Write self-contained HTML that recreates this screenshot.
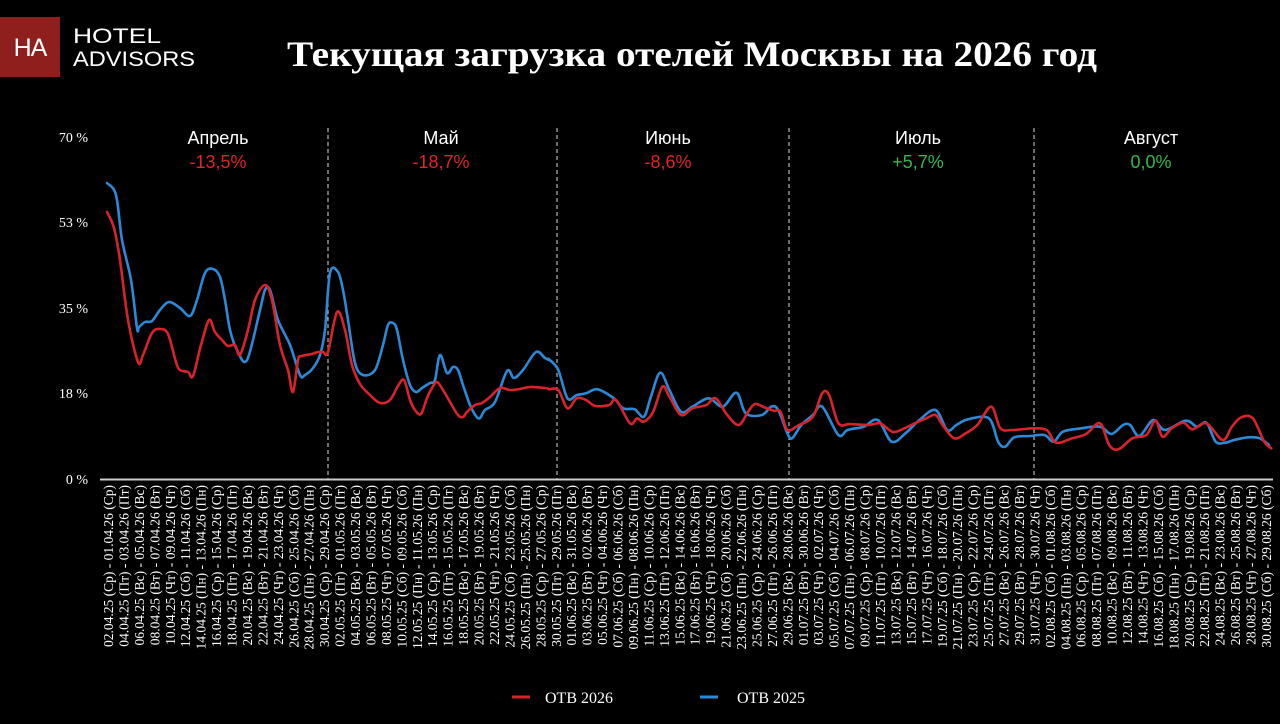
<!DOCTYPE html>
<html><head><meta charset="utf-8"><style>
html,body{margin:0;padding:0;background:#000;}
svg{display:block}
</style></head><body>
<svg id="s" width="1280" height="724" viewBox="0 0 1280 724" xmlns="http://www.w3.org/2000/svg">
<rect width="1280" height="724" fill="#000"/>
<rect x="0" y="17" width="60" height="60" fill="#8e1f1d"/>
<text x="30" y="56" fill="#fff" font-family="Liberation Sans, sans-serif" font-size="25" text-anchor="middle" letter-spacing="-1">HA</text>
<text x="73" y="43" fill="#fff" font-family="Liberation Sans, sans-serif" font-size="21" textLength="88" lengthAdjust="spacingAndGlyphs">HOTEL</text>
<text x="73" y="66" fill="#fff" font-family="Liberation Sans, sans-serif" font-size="21" textLength="122" lengthAdjust="spacingAndGlyphs">ADVISORS</text>
<text x="287" y="66" fill="#fff" font-family="Liberation Serif, serif" font-size="36" font-weight="bold" textLength="810" lengthAdjust="spacingAndGlyphs">Текущая загрузка отелей Москвы на 2026 год</text>
<g font-family="Liberation Serif, serif" font-size="14" fill="#fff" text-anchor="end">
<text x="88" y="142">70 %</text><text x="88" y="227">53 %</text><text x="88" y="313">35 %</text><text x="88" y="398">18 %</text><text x="88" y="484">0 %</text>
</g>
<g stroke="#ddd" stroke-width="1" stroke-dasharray="4,3">
<line x1="328" y1="128" x2="328" y2="479"/><line x1="557" y1="128" x2="557" y2="479"/><line x1="789" y1="128" x2="789" y2="479"/><line x1="1034" y1="128" x2="1034" y2="479"/>
</g>
<g font-family="Liberation Sans, sans-serif" font-size="18" text-anchor="middle">
<text x="218" y="144" fill="#fff">Апрель</text><text x="218" y="168" fill="#e3222b">-13,5%</text>
<text x="441" y="144" fill="#fff">Май</text><text x="441" y="168" fill="#e3222b">-18,7%</text>
<text x="668" y="144" fill="#fff">Июнь</text><text x="668" y="168" fill="#e3222b">-8,6%</text>
<text x="918" y="144" fill="#fff">Июль</text><text x="918" y="168" fill="#2fb84e">+5,7%</text>
<text x="1151" y="144" fill="#fff">Август</text><text x="1151" y="168" fill="#2fb84e">0,0%</text>
</g>
<line x1="100" y1="479.5" x2="1273" y2="479.5" stroke="#ccc" stroke-width="2"/>
<g id="lines" fill="none" stroke-width="2.6" stroke-linejoin="round" stroke-linecap="round"></g>
<g id="xl" font-family="Liberation Serif, serif" font-size="13.5" fill="#fff" text-anchor="end"></g>
<line x1="512" y1="697" x2="530" y2="697" stroke="#d9232b" stroke-width="3"/>
<text x="545" y="703" fill="#fff" font-family="Liberation Serif, serif" font-size="16">ОТВ 2026</text>
<line x1="700" y1="697" x2="718" y2="697" stroke="#2a8ad8" stroke-width="3"/>
<text x="737" y="703" fill="#fff" font-family="Liberation Serif, serif" font-size="16">ОТВ 2025</text>
</svg>
<script>
var NS="http://www.w3.org/2000/svg";
var blueA=[[107,183],[116,195],[122,240],[131,280],[137,328],[139,327],[145,322],[152,321],[160,310],[169,302],[180,308],[190,316],[197,300],[205,273],[213,269],[220,277],[225,300],[230,330],[237,350],[247,360],[260,310],[265,290],[270,290],[278,320],[290,345],[300,375],[305,375],[313,368],[320,355],[325,330],[330,273],[338,272],[343,290],[348,320],[355,363],[363,375],[375,370],[383,345],[388,325],[393,323],[397,330],[403,360],[410,385],[416,392],[422,388],[430,383],[435,380],[440,355],[447,373],[453,367],[458,370],[463,385],[470,405],[476,416],[480,418],[485,410],[495,402],[507,371],[514,378],[523,370],[536,352],[545,358],[549,360]];
var redA=[[107,212],[114,228],[120,260],[128,320],[138,362],[143,355],[152,333],[160,329],[168,334],[176,362],[180,370],[188,372],[193,376],[201,345],[209,320],[215,332],[222,340],[228,346],[235,345],[240,355],[248,330],[255,300],[265,285],[272,300],[280,345],[288,370],[293,392],[298,360],[302,356],[312,354],[318,352],[323,352],[328,352],[337,312],[345,330],[352,365],[360,384],[370,395],[380,403],[390,400],[398,386],[404,380],[410,400],[415,410],[421,414],[427,398],[432,388],[437,382],[443,390],[450,402],[458,415],[463,417],[467,412],[475,405],[482,403],[490,397],[500,388],[510,390],[520,389],[530,387],[545,388],[549,389]];
var blueB=[[0,88],[20,120],[40,205],[60,195],[80,190],[105,178],[140,205],[160,235],[185,238],[205,260],[220,200],[240,128],[260,180],[285,245],[310,230],[345,205],[375,230],[405,188],[425,250],[460,255],[480,230],[495,240],[515,310],[525,325],[545,285],[570,255],[590,230],[625,315],[645,300],[680,290],[710,270],[740,335],[770,310],[800,270],[835,240],[860,300],[880,285],[905,268],[950,265],[970,335],[985,350],[1005,322],[1040,318],[1070,315],[1090,335],[1110,305],[1150,295],[1190,290],[1215,312],[1240,285],[1255,285],[1275,318],[1305,270],[1330,300],[1375,272],[1400,290],[1420,278],[1440,335],[1460,338],[1480,330],[1510,322],[1535,325],[1555,345]];
var redB=[[0,178],[20,180],[40,235],[60,205],[80,210],[100,228],[130,225],[145,210],[175,280],[190,265],[205,275],[225,245],[245,170],[260,200],[285,255],[310,235],[340,225],[360,205],[385,255],[410,285],[430,245],[445,222],[465,232],[485,242],[500,245],[515,300],[540,285],[570,260],[590,190],[605,195],[625,280],[650,282],[690,285],[715,280],[735,300],[750,305],[790,280],[815,265],[835,255],[850,285],[875,325],[900,310],[925,285],[955,230],[975,295],[1000,300],[1020,298],[1045,295],[1075,300],[1095,338],[1130,325],[1160,312],[1190,280],[1210,345],[1230,358],[1260,325],[1290,315],[1310,272],[1325,320],[1345,295],[1370,278],[1390,298],[1420,280],[1455,330],[1475,290],[1495,262],[1520,265],[1545,335],[1560,355]];
function conv(b){return b.map(function(p){return [549+p[0]*0.463,330+p[1]/3];});}
function smooth(pts){var d="M"+pts[0][0]+","+pts[0][1];for(var i=0;i<pts.length-1;i++){var p0=pts[i-1]||pts[i],p1=pts[i],p2=pts[i+1],p3=pts[i+2]||p2;var c1x=p1[0]+(p2[0]-p0[0])/6,c1y=p1[1]+(p2[1]-p0[1])/6,c2x=p2[0]-(p3[0]-p1[0])/6,c2y=p2[1]-(p3[1]-p1[1])/6;d+="C"+c1x.toFixed(1)+","+c1y.toFixed(1)+" "+c2x.toFixed(1)+","+c2y.toFixed(1)+" "+p2[0].toFixed(1)+","+p2[1].toFixed(1);}return d;}
var g=document.getElementById("lines");
function add(pts,c){var p=document.createElementNS(NS,"path");p.setAttribute("d",smooth(pts));p.setAttribute("stroke",c);g.appendChild(p);}
add(blueA.concat(conv(blueB)),"#2a8ad8");
add(redA.concat(conv(redB)),"#d9232b");
var wd=["Вс","Пн","Вт","Ср","Чт","Пт","Сб"];
function f(n){return (n<10?"0":"")+n;}
var dates=[];
function push(m,d0,d1){for(var d=d0;d<=d1;d+=2)dates.push([m,d]);}
push(4,2,30);push(5,2,30);push(6,1,29);push(7,1,31);push(8,2,30);
var xl=document.getElementById("xl");
dates.forEach(function(md,i){
 var a=new Date(Date.UTC(2025,md[0]-1,md[1]));var b=new Date(a.getTime()+364*864e5);
 var w=wd[a.getUTCDay()];
 var s=f(a.getUTCDate())+"."+f(a.getUTCMonth()+1)+".25 ("+w+") - "+f(b.getUTCDate())+"."+f(b.getUTCMonth()+1)+".26 ("+w+")";
 var x=108+i*(1266-108)/(dates.length-1)+5;
 var t=document.createElementNS(NS,"text");t.setAttribute("transform","translate("+x.toFixed(1)+",485) rotate(-90)");t.textContent=s;xl.appendChild(t);
});
</script>
</body></html>
